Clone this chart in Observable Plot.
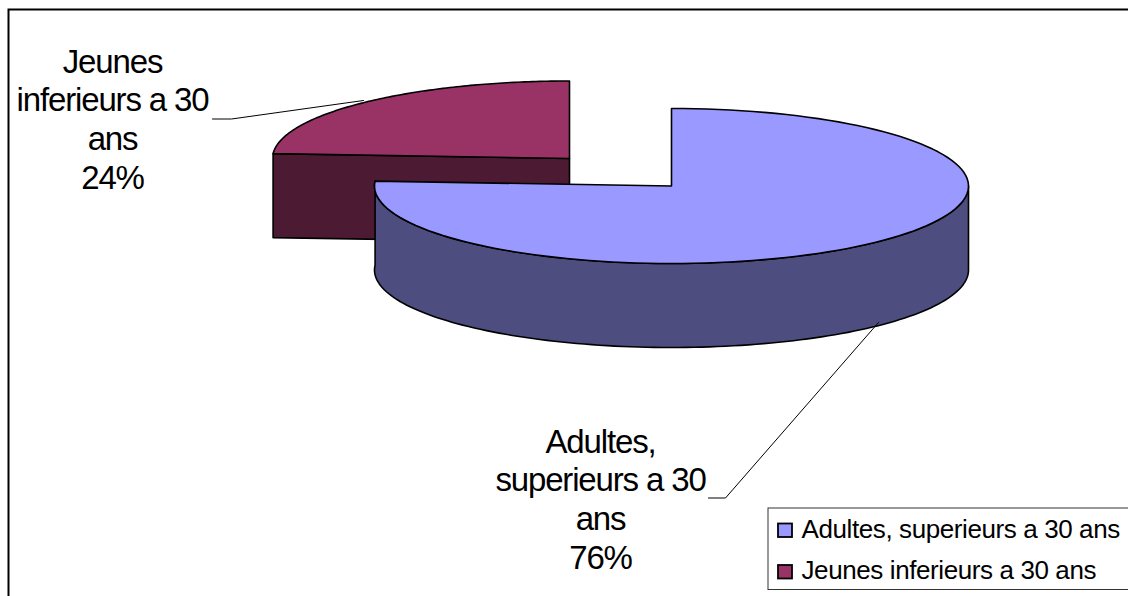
<!DOCTYPE html>
<html><head><meta charset="utf-8">
<script src="https://cdn.jsdelivr.net/npm/d3@7"></script>
<script src="https://cdn.jsdelivr.net/npm/@observablehq/plot@0.6"></script>
<style>html,body{margin:0;padding:0;background:#fff;overflow:hidden}svg{display:block}
g[font-size="33"] text{letter-spacing:-1.15px}
g[font-size="26"] text{letter-spacing:-0.4px}
</style>
</head><body><div id="chart"></div>
<script>
// Data
const categories = ["Adultes, superieurs a 30 ans", "Jeunes inferieurs a 30 ans"];
const shares = [76, 24];
const topColors = ["#9999FF", "#993366"];
const wallColors = ["#4D4D80", "#4D1A33"];
const labelLines = [["Adultes,", "superieurs a 30", "ans", "76%"], ["Jeunes", "inferieurs a 30", "ans", "24%"]];

// Layout
const W = 1128, H = 596;
const rx = 297, ry = 77.5, depth = 84;
const centers = [[671, 185.5], [569, 158]];
const font = "Liberation Sans, Arial, sans-serif";

const total = d3.sum(shares);
const split = shares[0] / total * 2 * Math.PI;
const pt = (c, a, dy = 0) => ({x: c[0] + rx * Math.sin(a), y: c[1] - ry * Math.cos(a) + dy});
const arc = (c, a0, a1, dy = 0) => d3.range(0, 121).map(i => pt(c, a0 + (a1 - a0) * i / 120, dy));
const closed = (pts, fill) => Plot.line(pts, {x: "x", y: "y", fill, stroke: "#000", strokeWidth: 1.6, curve: "linear-closed", strokeLinejoin: "round"});

const [ca, cj] = centers;
const cTopA = [{x: ca[0], y: ca[1]}, ...arc(ca, 0, split)];
const wallA = [...arc(ca, Math.PI / 2, split), ...arc(ca, split, Math.PI / 2, depth)];
const cTopJ = [{x: cj[0], y: cj[1]}, ...arc(cj, split, 2 * Math.PI)];
const s = pt(cj, split);
const faceJ = [s, {x: cj[0], y: cj[1]}, {x: cj[0], y: cj[1] + depth}, {x: s.x, y: s.y + depth}];

const leaders = [
  [{x: 708, y: 497.5}, {x: 725, y: 497.5}, {x: 878, y: 322}],
  [{x: 212, y: 118.5}, {x: 231, y: 118.5}, {x: 363, y: 100}]
];
const labelPos = [{x: 600, y0: 452, dy: 38.7}, {x: 112, y0: 72, dy: 38.9}];
const labelRows = labelLines.flatMap((ls, i) => ls.map((t, j) => ({t, x: labelPos[i].x, y: labelPos[i].y0 + j * labelPos[i].dy})));
const legendRows = categories.map((c, i) => ({c, color: topColors[i], y0: [523.5, 565][i], base: [537, 578][i]}));

const chart = Plot.plot({
  width: W, height: H, margin: 0, style: {background: "#fff"},
  x: {domain: [0, W], range: [0, W], axis: null},
  y: {domain: [0, H], range: [0, H], axis: null},
  marks: [
    Plot.rect([0], {x1: 8.5, x2: 1140, y1: 9.5, y2: 610, fill: "#fff", stroke: "#000", strokeWidth: 2}),
    closed(faceJ, wallColors[1]),
    closed(cTopJ, topColors[1]),
    closed(wallA, wallColors[0]),
    closed(cTopA, topColors[0]),
    ...leaders.map(l => Plot.line(l, {x: "x", y: "y", stroke: "#000", strokeWidth: 1})),
    Plot.text(labelRows, {x: "x", y: "y", text: "t", fontFamily: font, fontSize: 33, fill: "#000", lineAnchor: "bottom", textAnchor: "middle"}),
    Plot.rect([0], {x1: 768, x2: 1140, y1: 508, y2: 589.5, fill: "#fff", stroke: "#333", strokeWidth: 1}),
    Plot.rect(legendRows, {x1: 778, x2: 792, y1: "y0", y2: d => d.y0 + 13.5, fill: "color", stroke: "#000", strokeWidth: 1.8}),
    Plot.text(legendRows, {x: 801, y: "base", text: "c", fontFamily: font, fontSize: 26, fill: "#000", lineAnchor: "bottom", textAnchor: "start"})
  ]
});
document.getElementById("chart").append(chart);
</script></body></html>
